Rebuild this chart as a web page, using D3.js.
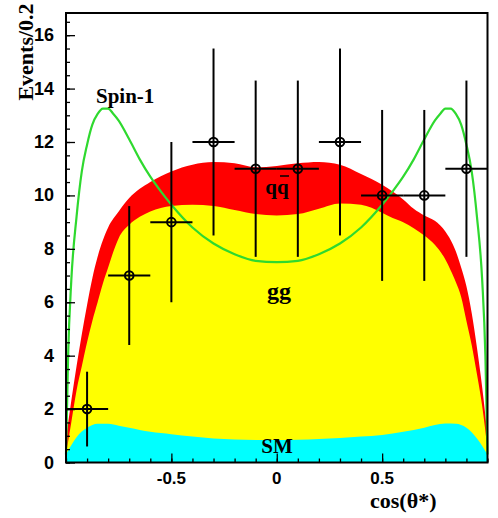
<!DOCTYPE html>
<html><head><meta charset="utf-8">
<script src="https://cdn.jsdelivr.net/npm/d3@7"></script>
<style>body{margin:0;background:#fff}svg{display:block}</style>
</head><body><svg id="c" width="498" height="518"></svg>
<script>
// ---- data ----
const dataX = [-0.9,-0.7,-0.5,-0.3,-0.1,0.1,0.3,0.5,0.7,0.9];
const dataY = [2,7,9,12,11,11,12,10,10,11];
const dataYErr = [1.4,2.6,3.0,3.5,3.3,3.3,3.5,3.2,3.2,3.3];
const dataXErr = 0.1;

const smX = [-1,-0.95,-0.9,-0.85,-0.8,-0.75,-0.7,-0.65,-0.6,-0.55,-0.5,-0.4,-0.3,-0.2,-0.1,0,0.1,0.2,0.3,0.4,0.5,0.6,0.7,0.75,0.8,0.85,0.9,0.95,1];
const smY = [0.3,0.95,1.3,1.45,1.45,1.38,1.3,1.22,1.15,1.1,1.06,0.97,0.9,0.86,0.84,0.84,0.85,0.88,0.92,0.97,1.03,1.15,1.3,1.4,1.46,1.45,1.3,0.9,0.3];

const ggX = [-1,-0.975,-0.95,-0.925,-0.9,-0.875,-0.85,-0.825,-0.8,-0.775,-0.75,-0.7,-0.65,-0.6,-0.5,-0.4,-0.3,-0.2,-0.1,0,0.1,0.2,0.3,0.4,0.5,0.55,0.6,0.65,0.7,0.75,0.8,0.825,0.85,0.875,0.9,0.925,0.95,0.975,1];
const ggY = [0.3,1.5,2.7,3.6,4.5,5.3,6.0,6.7,7.3,7.9,8.4,8.9,9.2,9.4,9.6,9.65,9.6,9.45,9.3,9.25,9.3,9.5,9.7,9.65,9.35,9.15,9.0,8.77,8.5,8.15,7.6,7.2,6.75,6.2,5.3,4.4,3.3,2.1,0.5];

const qqX = [-1,-0.975,-0.95,-0.925,-0.9,-0.875,-0.85,-0.8,-0.75,-0.7,-0.6,-0.5,-0.4,-0.3,-0.2,-0.1,0,0.1,0.2,0.3,0.4,0.5,0.6,0.65,0.7,0.75,0.8,0.85,0.875,0.9,0.925,0.95,0.975,1];
const qqY = [0.9,2.3,3.6,4.8,5.9,6.9,7.7,8.8,9.4,9.9,10.5,10.9,11.15,11.25,11.2,11.05,11.1,11.2,11.25,11.15,10.8,10.4,9.85,9.5,9.25,9.05,8.65,7.9,7.3,6.6,5.6,4.3,2.8,1.0];

const spinX = [-1,-0.99,-0.975,-0.95,-0.925,-0.9,-0.875,-0.85,-0.825,-0.8,-0.775,-0.75,-0.7,-0.65,-0.6,-0.55,-0.5,-0.4,-0.3,-0.2,-0.1,0,0.1,0.2,0.3,0.4,0.5,0.55,0.6,0.65,0.7,0.75,0.775,0.8,0.825,0.85,0.875,0.9,0.925,0.95,0.975,0.99,1];
const spinY = [0.3,4.0,6.8,9.2,10.9,11.9,12.65,13.05,13.25,13.25,13.05,12.8,12.1,11.35,10.7,10.15,9.65,8.8,8.2,7.8,7.55,7.5,7.55,7.8,8.2,8.8,9.65,10.15,10.7,11.35,12.1,12.8,13.05,13.25,13.25,13.05,12.65,11.9,10.9,9.2,6.8,4.0,0.3];

const yTicks = [0,2,4,6,8,10,12,14,16];
const xTicks = [-0.5,0,0.5];

// ---- chart ----
const svg = d3.select("#c");
const x = d3.scaleLinear().domain([-1,1]).range([66,487.5]);
const y = d3.scaleLinear().domain([0,16.83]).range([462.5,13]);

function area(xs, ys, color){
  const pts = xs.map((v,i)=>[v,ys[i]]);
  svg.append("path").datum(pts)
    .attr("fill", color)
    .attr("d", d3.area().x(d=>x(d[0])).y0(y(0)).y1(d=>y(d[1])).curve(d3.curveMonotoneX));
}
area(qqX, qqY, "#ff0000");
area(ggX, ggY, "#ffff00");
area(smX, smY, "#00ffff");

// spin-1
svg.append("path").datum(spinX.map((v,i)=>[v,spinY[i]]))
  .attr("fill","none").attr("stroke","#2fd92f").attr("stroke-width",2.2)
  .attr("d", d3.line().x(d=>x(d[0])).y(d=>y(d[1])).curve(d3.curveMonotoneX));

// axes: ticks inward
const gx = svg.append("g").attr("transform",`translate(0,${y(0)})`);
gx.call(d3.axisBottom(x).tickValues(d3.range(-10,11).map(d=>d/10)).tickSize(-4).tickFormat(""));
gx.call(g=>g.select(".domain").remove());
const gx2 = svg.append("g").attr("transform",`translate(0,${y(0)})`);
gx2.call(d3.axisBottom(x).tickValues(xTicks).tickSize(-9).tickFormat(""));
gx2.call(g=>g.select(".domain").remove());

const gy = svg.append("g").attr("transform",`translate(${x(-1)},0)`);
gy.call(d3.axisLeft(y).tickValues(d3.range(0,34).map(d=>d/2)).tickSize(-4).tickFormat(""));
gy.call(g=>g.select(".domain").remove());
const gy2 = svg.append("g").attr("transform",`translate(${x(-1)},0)`);
gy2.call(d3.axisLeft(y).tickValues(yTicks).tickSize(-9).tickFormat(""));
gy2.call(g=>g.select(".domain").remove());
svg.selectAll("g.tick line").attr("stroke","#000").attr("stroke-width",1.3);

// frame
svg.append("rect").attr("x",x(-1)).attr("y",y(16.83)).attr("width",x(1)-x(-1)).attr("height",y(0)-y(16.83))
  .attr("fill","none").attr("stroke","#000").attr("stroke-width",2);

// tick labels
const sans = "'Liberation Sans', Arial, sans-serif";
const serif = "'Liberation Serif', 'Times New Roman', serif";
svg.append("g").selectAll("text").data(yTicks).join("text")
  .attr("x",54).attr("y",d=>y(d)+6).attr("text-anchor","end")
  .attr("font-family",sans).attr("font-weight","bold").attr("font-size",18).text(d=>d);
svg.append("g").selectAll("text").data(xTicks).join("text")
  .attr("x",d=>x(d)).attr("y",484).attr("text-anchor","middle")
  .attr("font-family",sans).attr("font-weight","bold").attr("font-size",17).text(d=>d);

// data points
const pts = dataX.map((v,i)=>({x:v,y:dataY[i],e:dataYErr[i]}));
const gp = svg.append("g").attr("stroke","#000").attr("stroke-width",2);
gp.selectAll(".v").data(pts).join("line")
  .attr("x1",d=>x(d.x)).attr("x2",d=>x(d.x)).attr("y1",d=>y(d.y-d.e)).attr("y2",d=>y(d.y+d.e));
gp.selectAll(".h").data(pts).join("line")
  .attr("x1",d=>x(d.x-dataXErr)).attr("x2",d=>x(d.x+dataXErr)).attr("y1",d=>y(d.y)).attr("y2",d=>y(d.y));
gp.selectAll("circle").data(pts).join("circle")
  .attr("cx",d=>x(d.x)).attr("cy",d=>y(d.y)).attr("r",4.3).attr("fill","none");

// labels
function lab(t,xx,yy,size,anchor){
  return svg.append("text").attr("x",xx).attr("y",yy).attr("font-family",serif).attr("font-weight","bold")
    .attr("font-size",size).attr("text-anchor",anchor||"start").text(t);
}
lab("Spin-1",96,103,21);
lab("gg",279,299,24,"middle");
lab("SM",277,453,21,"middle");
lab("qq",277,194,21,"middle");
svg.append("line").attr("x1",280).attr("x2",289).attr("y1",176).attr("y2",176).attr("stroke","#000").attr("stroke-width",1.5);
lab("cos(θ*)",370,508,22);
svg.append("text").attr("transform","translate(33,52) rotate(-90)").attr("text-anchor","middle")
  .attr("font-family",serif).attr("font-weight","bold").attr("font-size",22).text("Events/0.2");
</script></body></html>
